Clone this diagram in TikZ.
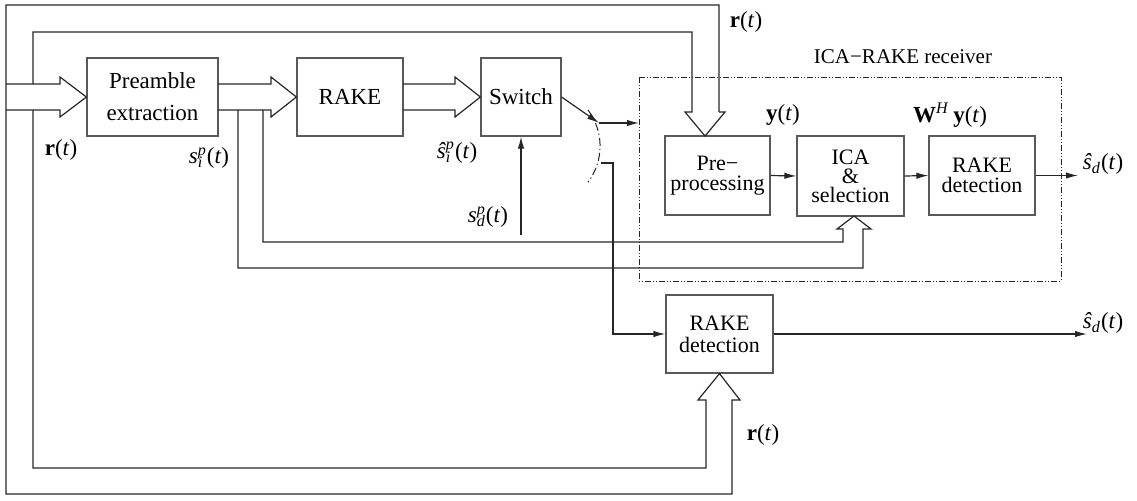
\documentclass[tikz,border=0pt]{standalone}
\usepackage{fontspec}
\setmainfont{Liberation Serif}
\usetikzlibrary{arrows.meta}
\newcommand{\myss}[2]{\rlap{\textsubscript{\textit{#1}}}\textsuperscript{\textit{#2}}}
\tikzset{
  box/.style={draw=black!65, line width=0.6pt, inner sep=0pt, align=center, font=\fontsize{11}{10}\selectfont},
  conn/.style={draw=black!85, line width=0.6pt},
  arr/.style={conn, -{Latex[length=6pt,width=3.2pt]}},
  lbl/.style={inner sep=0pt, font=\fontsize{11.5}{13}\selectfont},
  dashdotbox/.style={draw=black!85, line width=0.45pt, dash pattern=on 3pt off 1pt on 0.5pt off 1pt on 0.5pt off 1pt},
  arcdash/.style={draw=black!85, line width=0.5pt, dash pattern=on 4pt off 1.5pt on 0.6pt off 1.5pt}
}
\begin{document}
\begin{tikzpicture}[x=0.5pt,y=-0.5pt]
\useasboundingbox (0,0) rectangle (1137,500);
% blocks
\node[box, minimum width=65.5pt, minimum height=39pt, font=\fontsize{11.5}{16}\selectfont] (pre) at (152.5,97) {Preamble\\extraction};
\node[box, minimum width=53pt, minimum height=39pt, font=\fontsize{11.5}{10}\selectfont] (rake) at (350,97) {RAKE};
\node[box, minimum width=40pt, minimum height=39pt, font=\fontsize{11.5}{10}\selectfont] (sw) at (521,97) {Switch};
\node[box, minimum width=52.5pt, minimum height=39.5pt] (pp) at (717.5,175.5) {Pre−\\processing};
\node[box, minimum width=53.5pt, minimum height=40pt, font=\fontsize{11}{9.5}\selectfont] (ica) at (850.5,176) {ICA\\\&\\selection};
\node[box, minimum width=53pt, minimum height=39.5pt] (rd1) at (982,175.5) {RAKE\\detection};
\node[box, minimum width=53.5pt, minimum height=39pt, font=\fontsize{11}{11}\selectfont] (rd2) at (719.5,334) {RAKE\\detection};
% ICA-RAKE receiver frame
\draw[dashdotbox] (639,77) rectangle (1061,281);
\node[lbl, font=\fontsize{10.5}{11}\selectfont] (title) at (903,57) {ICA−RAKE receiver};
% fat arrows
\draw[conn] (6,84) -- (60,84) -- (60,77) -- (pre.west) -- (60,117) -- (60,110) -- (6,110);
\draw[conn] (218,84) -- (271,84) -- (271,77) -- (rake.west) -- (271,117) -- (271,110) -- (218,110);
\draw[conn] (403,84) -- (455,84) -- (455,77) -- (sw.west) -- (455,117) -- (455,110) -- (403,110);
% outer r(t) loop
\draw[conn] (719,112) -- (719,5) -- (6,5) -- (6,494) -- (732,494) -- (732,400) -- (740,400) -- (rd2.south) -- (698,400) -- (706,400) -- (706,468) -- (33,468) -- (33,110);
\draw[conn] (33,84) -- (33,32) -- (692,32) -- (692,112) -- (685,112) -- (705,136) -- (725,112) -- (719,112);
% s_i^p loop to ICA
\draw[conn] (263,110) -- (263,242) -- (843,242) -- (843,229) -- (837,229) -- (854,216) -- (871,229) -- (863,229) -- (863,268) -- (238,268) -- (238,110);
% switch outputs
\coordinate (swa) at (599,123);
\coordinate (dl) at (639,123);
\draw[arr] (sw.east) -- (swa);
\draw[arr] (swa) -- (dl);
\draw[arcdash] (588,110) arc[start angle=37, end angle=-37, radius=30pt];
\coordinate (swb) at (601,163);
\draw[arr] (swb) -- (613,163) -- (613,334) -- (rd2.west);
\coordinate (sdp) at (521,235);
\draw[arr] (sdp) -- (sw.south);
% internal arrows
\draw[arr] (pp.east) -- (ica.west);
\draw[arr] (ica.east) -- (rd1.west);
\coordinate (o1) at (1078,175.5);
\draw[arr] (rd1.east) -- (o1);
\coordinate (o2) at (1087,334);
\draw[arr] (rd2.east) -- (o2);
% labels
\node[lbl] (l1) at (61,150) {\textbf{r}(\textit{t})};
\node[lbl] (l2) at (209,158) {\textit{s}\myss{i}{p}(\textit{t})};
\node[lbl] (l3) at (457,153) {\textit{\^{s}}\myss{i}{p}(\textit{t})};
\node[lbl] (l4) at (488,217) {\textit{s}\myss{d}{p}(\textit{t})};
\node[lbl] (l5) at (746,22) {\textbf{r}(\textit{t})};
\node[lbl] (l6) at (783,115) {\textbf{y}(\textit{t})};
\node[lbl] (l7) at (950,115) {\textbf{W}\textsuperscript{\textit{H}}\,\textbf{y}(\textit{t})};
\node[lbl] (l8) at (1103,164) {\textit{\^{s}}\textsubscript{\textit{d}}(\textit{t})};
\node[lbl] (l9) at (1103,323) {\textit{\^{s}}\textsubscript{\textit{d}}(\textit{t})};
\node[lbl] (l10) at (763,435) {\textbf{r}(\textit{t})};
\end{tikzpicture}
\end{document}
